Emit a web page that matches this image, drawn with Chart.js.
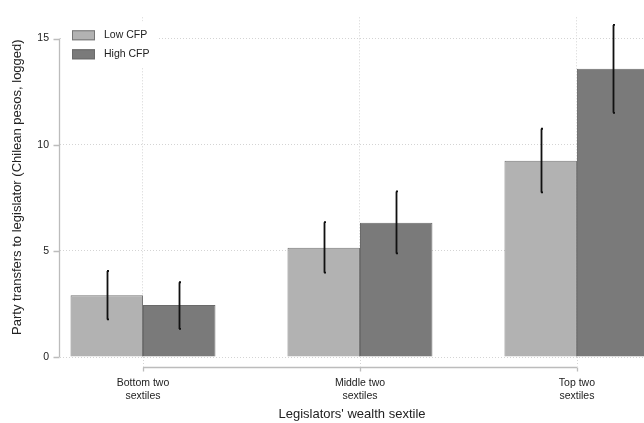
<!DOCTYPE html>
<html><head><meta charset="utf-8">
<script src="https://cdn.jsdelivr.net/npm/chart.js@4"></script>
<style>html,body{margin:0;padding:0;background:#fff}</style>
</head><body>
<canvas id="c" width="644" height="423"></canvas>
<script>
const categories = [["Bottom two","sextiles"],["Middle two","sextiles"],["Top two","sextiles"]];
const seriesNames = ["Low CFP","High CFP"];
const lowValues = [2.91, 5.14, 9.24];
const lowCiLower = [1.77, 3.97, 7.75];
const lowCiUpper = [4.05, 6.35, 10.75];
const highValues = [2.45, 6.32, 13.58];
const highCiLower = [1.32, 4.88, 11.50];
const highCiUpper = [3.52, 7.80, 15.64];
const yTicks = [0, 5, 10, 15];
const xTitle = "Legislators' wealth sextile";
const yTitle = "Party transfers to legislator (Chilean pesos, logged)";

const FONT = "'Liberation Sans', Arial, sans-serif";
const GRID = '#d4d4d4';
const AXIS = '#bcbcbc';

const ciLower = [lowCiLower, highCiLower];
const ciUpper = [lowCiUpper, highCiUpper];

const toPoints = arr => arr.map((v, i) => ({x: i + 1, y: v}));

const extras = {
  id: 'extras',
  afterDatasetsDraw(chart) {
    const ctx = chart.ctx;
    const ys = chart.scales.y, xs = chart.scales.x;
    const ca = chart.chartArea;
    chart.data.datasets.forEach((ds, di) => {
      const meta = chart.getDatasetMeta(di);
      meta.data.forEach((el, i) => {
        const x = Math.round(el.x) + 0.5;
        const yT = ys.getPixelForValue(ciUpper[di][i]);
        const yB = ys.getPixelForValue(ciLower[di][i]);
        ctx.save();
        ctx.strokeStyle = '#111';
        ctx.lineWidth = 1.8;
        ctx.beginPath();
        ctx.moveTo(x, yT); ctx.lineTo(x, yB);
        ctx.moveTo(x - 0.5, yT); ctx.lineTo(x + 1.5, yT);
        ctx.moveTo(x - 0.5, yB); ctx.lineTo(x + 1.5, yB);
        ctx.stroke();
        ctx.restore();
      });
    });
    ctx.save();
    ctx.strokeStyle = AXIS;
    ctx.lineWidth = 1.3;
    const ax = ca.left - 0.5;
    ctx.beginPath();
    ctx.moveTo(ax, ys.getPixelForValue(yTicks[0]));
    ctx.lineTo(ax, ys.getPixelForValue(yTicks[yTicks.length - 1]));
    yTicks.forEach(t => {
      const y = Math.round(ys.getPixelForValue(t)) + 0.5;
      ctx.moveTo(ax - 6, y); ctx.lineTo(ax, y);
    });
    ctx.stroke();
    const ay = ca.bottom + 10.5;
    ctx.beginPath();
    ctx.moveTo(xs.getPixelForValue(1), ay);
    ctx.lineTo(xs.getPixelForValue(categories.length), ay);
    categories.forEach((c, i) => {
      const x = Math.round(xs.getPixelForValue(i + 1)) + 0.5;
      ctx.moveTo(x, ay); ctx.lineTo(x, ay + 4);
    });
    ctx.stroke();
    ctx.lineWidth = 1;
    ctx.strokeStyle = GRID;
    ctx.setLineDash([1, 2]);
    ctx.beginPath();
    categories.forEach((c, i) => {
      const x = Math.round(xs.getPixelForValue(i + 1)) + 0.5;
      ctx.moveTo(x, ca.bottom); ctx.lineTo(x, ay - 1);
    });
    ctx.stroke();
    ctx.setLineDash([]);
    const lx = ca.left + 2, ly = ca.top + 4;
    ctx.fillStyle = '#fff';
    ctx.fillRect(lx, ly, 96, 46);
    chart.data.datasets.forEach((ds, di) => {
      const by = ly + 9 + di * 19;
      ctx.fillStyle = ds.backgroundColor;
      ctx.fillRect(ca.left + 12, by, 23, 10);
      ctx.strokeStyle = ds.borderColor;
      ctx.lineWidth = 1;
      ctx.strokeRect(ca.left + 12.5, by + 0.5, 22, 9);
      ctx.fillStyle = '#222';
      ctx.font = '10.5px ' + FONT;
      ctx.textBaseline = 'middle';
      ctx.textAlign = 'left';
      ctx.fillText(ds.label, ca.left + 44, by + 5);
    });
    ctx.restore();
  }
};

new Chart(document.getElementById('c'), {
  type: 'bar',
  data: {
    datasets: [
      {label: seriesNames[0], data: toPoints(lowValues), backgroundColor: '#b2b2b2', borderColor: '#767676', borderWidth: 1},
      {label: seriesNames[1], data: toPoints(highValues), backgroundColor: '#7a7a7a', borderColor: '#6a6a6a', borderWidth: 1}
    ]
  },
  options: {
    responsive: false,
    animation: false,
    layout: {padding: {top: 10, left: 0, right: 0, bottom: 0}},
    categoryPercentage: 0.668,
    barPercentage: 1.0,
    plugins: {legend: {display: false}, tooltip: {enabled: false}},
    scales: {
      x: {
        type: 'linear',
        offset: false,
        min: 0.6175,
        max: 3.309,
        afterBuildTicks: s => { s.ticks = categories.map((c, i) => ({value: i + 1})); },
        afterFit: s => { s.height = 66; },
        border: {display: false, dash: [1, 2]},
        grid: {color: GRID, drawTicks: false, lineWidth: 1, offset: false},
        ticks: {
          callback: (v, i) => categories[i],
          font: {family: FONT, size: 10.5},
          color: '#222',
          padding: 20,
          maxRotation: 0,
          autoSkip: false
        },
        title: {display: true, text: xTitle, font: {family: FONT, size: 13}, color: '#222', padding: {top: 4, bottom: 1}}
      },
      y: {
        min: 0,
        max: 16,
        afterBuildTicks: s => { s.ticks = yTicks.map(v => ({value: v})); },
        afterFit: s => { s.width = 60; },
        border: {display: false, dash: [1, 2]},
        grid: {color: GRID, drawTicks: false, lineWidth: 1},
        ticks: {font: {family: FONT, size: 10.5}, color: '#222', padding: 11},
        title: {display: true, text: yTitle, font: {family: FONT, size: 13}, color: '#222', padding: {top: 10, bottom: 0}}
      }
    }
  },
  plugins: [extras]
});
</script>
</body></html>
